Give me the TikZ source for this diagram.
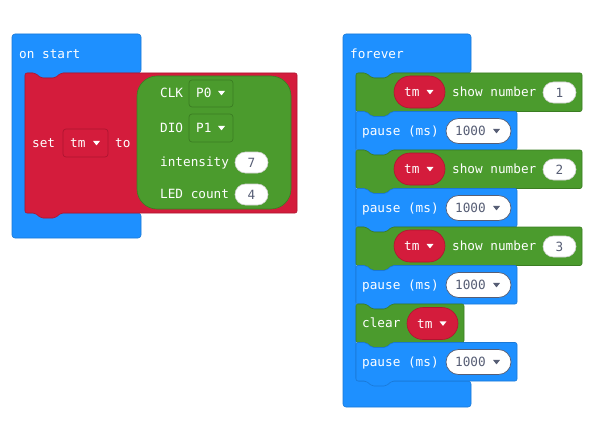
\documentclass[tikz,border=0pt]{standalone}
\usepackage{fontspec}
\newfontfamily\mcmono{DejaVu Sans Mono}
\definecolor{mcblue}{HTML}{1E90FF}
\definecolor{mcblueD}{HTML}{1A78D6}
\definecolor{mcred}{HTML}{D41C3C}
\definecolor{mcredD}{HTML}{AE1530}
\definecolor{mcgreen}{HTML}{4B9B2D}
\definecolor{mcgreenD}{HTML}{3B7D22}
\definecolor{valtext}{HTML}{575E75}
\tikzset{
  lbl/.style={text=white, font=\mcmono\fontsize{12.7}{15}\selectfont, inner sep=0pt, anchor=west, text height=9.2pt, text depth=0pt},
  val/.style={lbl, text=valtext},
  numoval/.style={fill=white, draw=black!18, line width=0.6pt},
  msoval/.style={fill=white, draw=valtext, line width=0.7pt},
}
\newcommand{\stmtblk}[6]{%
  \filldraw[fill=#1,draw=#2,line width=0.6pt,rounded corners=2pt]
   (#3,#4) -- ++(10,0) -- ++(6,5) -- ++(14,0) -- ++(6,-5) -- (#5,#4) -- (#5,#6)
   -- ({#3+36},#6) -- ++(-6,5) -- ++(-14,0) -- ++(-6,-5) -- (#3,#6) -- cycle;}
\newcommand{\hatblk}[9]{%
  \filldraw[fill=#1,draw=#2,line width=0.6pt,rounded corners=3pt]
   (#3,#4) -- (#5,#4) -- (#5,#6) -- ({#7+36},#6) -- ++(-6,5) -- ++(-14,0) -- ++(-6,-5)
   -- (#7,#6) -- (#7,#8) -- (#5,#8) -- (#5,#9) -- (#3,#9) -- cycle;}
\newcommand{\ddtri}[3]{%
  \fill[#3,rounded corners=0.4pt] ({#1-3.6},{#2-2.2}) -- ({#1+3.6},{#2-2.2}) -- (#1,{#2+2.4}) -- cycle;}
\newcommand{\showblk}[3]{% top, number, id
  \stmtblk{mcgreen}{mcgreenD}{356}{#1}{582}{#1+38.5}
  \filldraw[fill=mcred,draw=mcredD,line width=0.6pt,rounded corners=16pt] (394,{#1+3}) rectangle (445,{#1+35});
  \node[lbl] (tm#3) at (404,{#1+19}) {tm};
  \ddtri{430}{#1+19}{white}
  \node[lbl] (show#3) at (452,{#1+19}) {show number};
  \filldraw[numoval,rounded corners=10.5pt] (543,{#1+9}) rectangle (576,{#1+30});
  \node[val,anchor=center] (num#3) at (559.5,{#1+19.5}) {#2};}
\newcommand{\pauseblk}[2]{% top, id
  \stmtblk{mcblue}{mcblueD}{356}{#1}{517}{#1+38.5}
  \node[lbl] (pause#2) at (362,{#1+19.5}) {pause (ms)};
  \filldraw[msoval,rounded corners=12.5pt] (446,{#1+7}) rectangle (511,{#1+32});
  \node[val] (ms#2) at (455,{#1+19.5}) {1000};
  \ddtri{496.5}{#1+19.5}{valtext}}
\begin{document}
\begin{tikzpicture}[x=1pt,y=-1pt]
\useasboundingbox (0,0) rectangle (592,444);
\fill[white] (0,0) rectangle (592,444);
% ---------- on start ----------
\hatblk{mcblue}{mcblueD}{12}{34}{141}{73}{25}{213}{238}
\node[lbl] (onstart) at (19,54) {on start};
\stmtblk{mcred}{mcredD}{25}{73}{297}{213}
\node[lbl] (set) at (32,143) {set};
\filldraw[fill=mcred,draw=mcredD,line width=0.7pt,rounded corners=3pt] (63,129) rectangle (108,157);
\node[lbl] (settm) at (70,143) {tm};
\ddtri{96.5}{143}{white}
\node[lbl] (to) at (115,143) {to};
\filldraw[fill=mcgreen,draw=mcgreenD,line width=0.6pt,rounded corners=20pt] (137,76) rectangle (291,209);
\node[lbl] (clk) at (160,93) {CLK};
\filldraw[fill=mcgreen,draw=mcgreenD,line width=0.7pt,rounded corners=3pt] (189,80) rectangle (233,107);
\node[lbl] (p0) at (196,93) {P0};
\ddtri{221.5}{93}{white}
\node[lbl] (dio) at (160,128) {DIO};
\filldraw[fill=mcgreen,draw=mcgreenD,line width=0.7pt,rounded corners=3pt] (189,114) rectangle (233,142);
\node[lbl] (p1) at (196,128) {P1};
\ddtri{221.5}{128}{white}
\node[lbl] (intensity) at (160,162) {intensity};
\filldraw[numoval,rounded corners=10.5pt] (235,152) rectangle (268,173);
\node[val,anchor=center] (seven) at (251.5,162.5) {7};
\node[lbl] (ledcount) at (160,194) {LED count};
\filldraw[numoval,rounded corners=10.5pt] (235,184) rectangle (268,205);
\node[val,anchor=center] (four) at (251.5,194.5) {4};
% ---------- forever ----------
\hatblk{mcblue}{mcblueD}{343}{34}{471}{73}{356}{381}{407}
\node[lbl] (forever) at (350,54) {forever};
\showblk{73}{1}{a}
\pauseblk{111.5}{a}
\showblk{150}{2}{b}
\pauseblk{188.5}{b}
\showblk{227}{3}{c}
\pauseblk{265.5}{c}
\stmtblk{mcgreen}{mcgreenD}{356}{304}{464}{342.5}
\node[lbl] (clear) at (362,323) {clear};
\filldraw[fill=mcred,draw=mcredD,line width=0.6pt,rounded corners=16pt] (407,307.5) rectangle (458,339.5);
\node[lbl] (cleartm) at (417,323.5) {tm};
\ddtri{443}{323.5}{white}
\pauseblk{342.5}{d}
\end{tikzpicture}
\end{document}
